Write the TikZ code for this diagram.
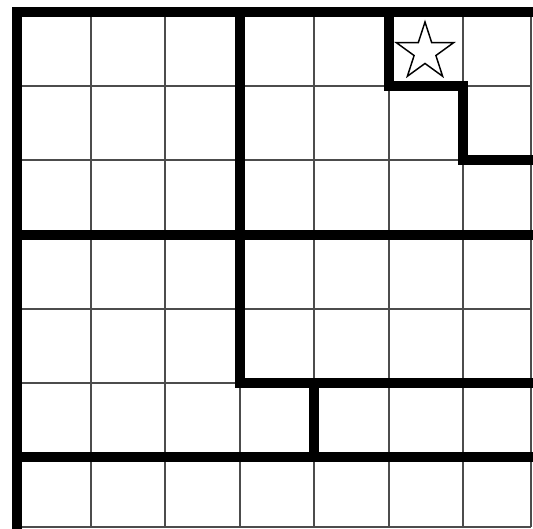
\documentclass[tikz,border=0pt]{standalone}
\begin{document}
\begin{tikzpicture}[x=0.75pt,y=-0.75pt,
  thinline/.style={line width=1.1pt,draw=black!70},
  thickline/.style={line width=7.5pt,draw=black,line cap=rect,line join=miter},
  staroutline/.style={line width=1.1pt,draw=black,line join=miter,fill=white}]
\useasboundingbox (0,0) rectangle (533,529);
\fill[white] (0,0) rectangle (533,529);
% thin grid
\foreach \x in {91,165,240,314,389,463,531} \draw[thinline] (\x,12) -- (\x,527);
\foreach \y in {86,160,235,309,383,457,527} \draw[thinline] (17,\y) -- (531,\y);
% thick borders
\draw[thickline] (540,12) -- (17,12) -- (17,540);
\draw[thickline] (240,12) -- (240,383) -- (540,383);
\draw[thickline] (17,235) -- (540,235);
\draw[thickline] (389,12) -- (389,86) -- (463,86) -- (463,160) -- (540,160);
\draw[thickline] (314,383) -- (314,457);
\draw[thickline] (17,457) -- (540,457);
% star
\coordinate (sc) at (425,52);
\draw[staroutline] (sc) +(-90:30) -- +(-54:11.46) -- +(-18:30) -- +(18:11.46)
  -- +(54:30) -- +(90:11.46) -- +(126:30) -- +(162:11.46) -- +(198:30)
  -- +(234:11.46) -- cycle;
\end{tikzpicture}
\end{document}
